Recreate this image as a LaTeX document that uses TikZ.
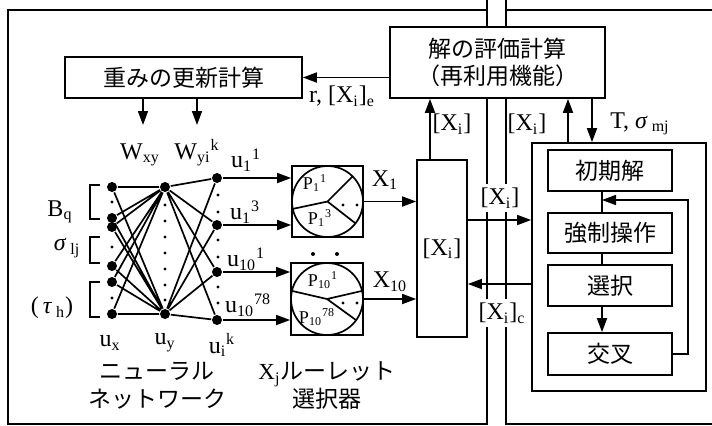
\documentclass[tikz,border=0pt]{standalone}
\usepackage{fontspec}
\setmainfont{Liberation Serif}
\newfontfamily\jp{Noto Sans CJK JP}
\usetikzlibrary{arrows.meta,calc}
\tikzset{
  frame/.style={line width=1.4pt},
  jbox/.style={draw, fill=white, inner sep=0pt, align=center, font=\jp\fontsize{11.5}{13.5}\selectfont},
  jtxt/.style={inner sep=0pt, align=center, font=\jp\fontsize{11.5}{14}\selectfont},
  unit/.style={circle, fill, inner sep=0pt, minimum size=5pt},
  arr/.style={-{Triangle[length=7pt,width=5pt]}},
  lbl/.style={inner sep=1pt, font=\fontsize{12}{14}\selectfont},
  plbl/.style={inner sep=0pt, font=\fontsize{9}{10}\selectfont},
}

\begin{document}
\begin{tikzpicture}[x=0.5pt, y=-0.5pt, line width=0.85pt]
  \useasboundingbox (0,0) rectangle (712,425);
  % panels and the channel between them
  \draw[frame] (487,0) -- (487,425) (506,0) -- (506,425);
  \draw[frame] (487,10) -- (8,10) -- (8,424) -- (487,424);
  \draw[frame] (506,10) -- (712,10) (506,424) -- (712,424);

  % top boxes
  \node[jbox, minimum width=118.5pt, minimum height=20.5pt] (upd) at (183.5,77.5) {重みの更新計算};
  \node[jbox, minimum width=107.5pt, minimum height=35.5pt] (eval) at (497.5,62.5) {解の評価計算\\（再利用機能）};
  \draw[arr] (eval.west |- upd.east) -- (upd.east);
  \node[lbl] (rlbl) at (342,96) {r, [X\textsubscript{i}]\textsubscript{e}};
  \coordinate (wxyend) at (143,125);
  \coordinate (wyiend) at (197,125);
  \draw[arr] (upd.south -| wxyend) -- (wxyend);
  \draw[arr] (upd.south -| wyiend) -- (wyiend);
  \node[lbl] (wxy) at (140,155) {W\textsubscript{xy}};
  \node[lbl] (wyi) at (197,153) {W\textsubscript{yi}\textsuperscript{k}};

  % neural network
  \node[unit] (x1) at (112,187) {};
  \node[unit] (x2) at (112,218) {};
  \node[unit] (x3) at (112,227) {};
  \node[unit] (x4) at (112,266) {};
  \node[unit] (x5) at (112,282) {};
  \node[unit] (x6) at (112,314) {};
  \node[unit] (y1) at (165,187) {};
  \node[unit] (y2) at (165,314) {};
  \node[unit] (k1) at (217,178) {};
  \node[unit] (k2) at (217,225) {};
  \node[unit] (k3) at (217,272) {};
  \node[unit] (k4) at (217,320) {};
  \draw (x1) -- (y1) (x2) -- (y1) (x3) -- (y1) (x4) -- (y1) (x5) -- (y1) (x6) -- (y1);
  \draw (x1) -- (y2) (x2) -- (y2) (x3) -- (y2) (x4) -- (y2) (x5) -- (y2) (x6) -- (y2);
  \draw (y1) -- (k1) (y1) -- (k2) (y1) -- (k3) (y1) -- (k4);
  \draw (y2) -- (k1) (y2) -- (k2) (y2) -- (k3) (y2) -- (k4);
  \fill (112,202) circle[radius=0.8pt] (112,247) circle[radius=0.8pt] (112,298) circle[radius=0.8pt];
  \fill (165,205) circle[radius=0.8pt] (165,221) circle[radius=0.8pt] (165,237) circle[radius=0.8pt]
        (165,253) circle[radius=0.8pt] (165,269) circle[radius=0.8pt] (165,285) circle[radius=0.8pt]
        (165,300) circle[radius=0.8pt];
  \fill (218,195) circle[radius=0.8pt] (218,212) circle[radius=0.8pt] (218,240) circle[radius=0.8pt]
        (218,257) circle[radius=0.8pt] (218,287) circle[radius=0.8pt] (218,303) circle[radius=0.8pt];
  \draw (100,185) -- (90,185) -- (90,219) -- (100,219);
  \draw (100,237) -- (90,237) -- (90,263) -- (100,263);
  \draw (100,282) -- (90,282) -- (90,317) -- (100,317);
  \node[lbl] (bq) at (60,212) {B\textsubscript{q}};
  \node[lbl] (sig) at (67,248) {\textit{σ}\,\textsubscript{lj}};
  \node[lbl] (tau) at (52,308) {(\,\textit{τ}\,\textsubscript{h})};
  \node[lbl] (u11) at (246,160) {u\textsubscript{1}\textsuperscript{1}};
  \node[lbl] (u13) at (245,212) {u\textsubscript{1}\textsuperscript{3}};
  \node[lbl] (u101) at (246,259) {u\textsubscript{10}\textsuperscript{1}};
  \node[lbl] (u1078) at (248,305) {u\textsubscript{10}\textsuperscript{78}};
  \node[lbl] (ux) at (110,343) {u\textsubscript{x}};
  \node[lbl] (uy) at (165,343) {u\textsubscript{y}};
  \node[lbl] (uik) at (222,345) {u\textsubscript{i}\textsuperscript{k}};
  \node[jtxt] (nncap) at (157,386) {ニューラル\\ネットワーク};

  % roulette selectors
  \node[draw, minimum size=35.5pt, inner sep=0pt] (rou1) at (327.5,201.5) {};
  \node[draw, minimum size=36pt, inner sep=0pt] (rou10) at (327,299) {};
  \draw (rou1.center) circle[radius=17.75pt];
  \draw (rou10.center) circle[radius=18pt];
  \draw (rou1.center) -- ++(192:17.75pt) (rou1.center) -- ++(45:17.75pt) (rou1.center) -- ++(-38:17.75pt);
  \draw (rou10.center) -- ++(167:18pt) (rou10.center) -- ++(13:18pt) (rou10.center) -- ++(-36:18pt);
  \fill (343,205) circle[radius=0.8pt] (357,205) circle[radius=0.8pt];
  \fill (343,303) circle[radius=0.8pt] (357,303) circle[radius=0.8pt];
  \fill (313,254) circle[radius=1pt] (337,254) circle[radius=1pt];
  \node[plbl] (p11) at (315,183) {P\textsubscript{1}\textsuperscript{1}};
  \node[plbl] (p13) at (320,218) {P\textsubscript{1}\textsuperscript{3}};
  \node[plbl] (p101) at (323,280) {P\textsubscript{10}\textsuperscript{1}};
  \node[plbl] (p1078) at (317,317) {P\textsubscript{10}\textsuperscript{78}};
  \draw[arr] (k1) -- (k1 -| rou1.west);
  \draw[arr] (k2) -- (k2 -| rou1.west);
  \draw[arr] (k3) -- (k3 -| rou10.west);
  \draw[arr] (k4) -- (k4 -| rou10.west);
  \node[lbl] (x1lbl) at (385,180) {X\textsubscript{1}};
  \node[lbl] (x10lbl) at (390,282) {X\textsubscript{10}};
  \node[jtxt] (roucap) at (327,386) {{\rmfamily X\textsubscript{j}}ルーレット\\選択器};

  % selected solutions
  \node[draw, fill=white, lbl, minimum width=25pt, minimum height=88.5pt] (selx) at (442,248.5) {[X\textsubscript{i}]};
  \draw[arr] (rou1.east) -- (rou1.east -| selx.west);
  \draw[arr] (rou10.east) -- (rou10.east -| selx.west);
  \coordinate (evin) at (430,0);
  \draw[arr] (evin |- selx.north) -- (evin |- eval.south);
  \node[lbl] (xup) at (452,124) {[X\textsubscript{i}]};

  % genetic algorithm
  \node[draw, fill=white, minimum width=87pt, minimum height=124pt] (ga) at (619,267) {};
  \node[jbox, minimum width=62pt, minimum height=20.5pt] (init) at (610,170.5) {初期解};
  \node[jbox, minimum width=62pt, minimum height=20pt] (force) at (610,233) {強制操作};
  \node[jbox, minimum width=62pt, minimum height=20.5pt] (sel) at (610,285.5) {選択};
  \node[jbox, minimum width=62pt, minimum height=21pt] (cross) at (610,354) {交叉};
  \coordinate (gline) at (602,0);
  \draw (init.south -| gline) -- (force.north -| gline);
  \draw (force.south -| gline) -- (sel.north -| gline);
  \draw[arr] (sel.south -| gline) -- (cross.north -| gline);
  \coordinate (fbk) at (688,200);
  \draw[arr] (cross.east) -| (fbk) -- (fbk -| gline);
  \coordinate (gaup) at (568,0);
  \coordinate (gadn) at (592,0);
  \draw[arr] (gaup |- ga.north) -- (gaup |- eval.south);
  \draw[arr] (gadn |- eval.south) -- (gadn |- ga.north);
  \node[lbl] (xga) at (527,124) {[X\textsubscript{i}]};
  \node[lbl] (tsig) at (640,124) {T, \textit{σ}\,\textsubscript{mj}};

  % across the channel
  \coordinate (fwd) at (0,220);
  \coordinate (bwd) at (0,284);
  \draw[arr] (selx.east |- fwd) -- (ga.west |- fwd);
  \draw[arr] (ga.west |- bwd) -- (selx.east |- bwd);
  \node[lbl, fill=white, inner sep=2pt] (xfwd) at (500,198) {[X\textsubscript{i}]};
  \node[lbl, fill=white, inner sep=2pt] (xbwd) at (502,313) {[X\textsubscript{i}]\textsubscript{c}};
\end{tikzpicture}
\end{document}
